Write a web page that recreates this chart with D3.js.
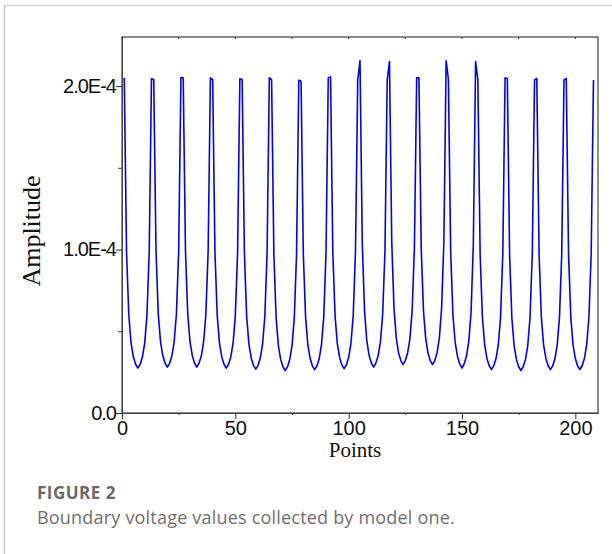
<!DOCTYPE html>
<html>
<head>
<meta charset="utf-8">
<script src="https://cdn.jsdelivr.net/npm/d3@7"></script>
<style>
  body { margin: 0; background: #fff; }
  .tick text { font-family: "Liberation Sans", Arial, sans-serif; font-size: 20px; fill: #111; }
  .y-axis .tick text { letter-spacing: -1px; }
  .axis-label { font-family: "Liberation Serif", "Times New Roman", serif; fill: #111; }
  .caption { font-family: "Open Sans", sans-serif; }
</style>
</head>
<body>
<div id="vis"></div>
<script>
// Boundary voltages, 16 excitations x 13 measurements (units of 1E-4)
const drive1  = [2.050, 0.985, 0.598, 0.428, 0.344, 0.298, 0.275, 0.297, 0.342, 0.426, 0.596, 0.982, 2.045];
const drive2  = [2.040, 0.990, 0.605, 0.435, 0.350, 0.305, 0.281, 0.304, 0.349, 0.434, 0.603, 0.988, 2.052];
const drive3  = [2.050, 0.992, 0.606, 0.436, 0.351, 0.305, 0.281, 0.305, 0.350, 0.435, 0.604, 0.990, 2.050];
const drive4  = [2.040, 0.985, 0.598, 0.428, 0.344, 0.298, 0.275, 0.298, 0.343, 0.427, 0.597, 0.983, 2.044];
const drive5  = [2.040, 0.978, 0.590, 0.420, 0.337, 0.291, 0.268, 0.290, 0.336, 0.419, 0.589, 0.976, 2.050];
const drive6  = [2.040, 0.970, 0.581, 0.411, 0.328, 0.283, 0.260, 0.282, 0.327, 0.410, 0.580, 0.968, 2.036];
const drive7  = [2.030, 0.968, 0.585, 0.416, 0.333, 0.288, 0.265, 0.288, 0.333, 0.416, 0.586, 0.975, 2.050];
const drive8  = [2.056, 0.985, 0.594, 0.423, 0.340, 0.294, 0.271, 0.294, 0.340, 0.424, 0.596, 0.985, 2.037];
const drive9  = [2.156, 1.040, 0.625, 0.442, 0.353, 0.306, 0.281, 0.305, 0.350, 0.434, 0.603, 0.985, 2.037];
const drive10 = [2.150, 1.050, 0.640, 0.458, 0.369, 0.321, 0.296, 0.320, 0.367, 0.452, 0.625, 1.010, 2.050];
const drive11 = [2.050, 1.010, 0.626, 0.453, 0.367, 0.320, 0.296, 0.321, 0.369, 0.458, 0.640, 1.050, 2.155];
const drive12 = [2.040, 0.985, 0.598, 0.430, 0.346, 0.300, 0.275, 0.302, 0.350, 0.440, 0.615, 1.035, 2.150];
const drive13 = [2.037, 0.970, 0.586, 0.417, 0.334, 0.289, 0.265, 0.288, 0.333, 0.416, 0.585, 0.972, 2.050];
const drive14 = [2.045, 0.968, 0.581, 0.411, 0.328, 0.283, 0.260, 0.283, 0.328, 0.411, 0.582, 0.970, 2.037];
const drive15 = [2.046, 0.975, 0.587, 0.417, 0.334, 0.289, 0.265, 0.288, 0.333, 0.416, 0.585, 0.972, 2.037];
const drive16 = [2.046, 0.972, 0.585, 0.415, 0.333, 0.288, 0.266, 0.289, 0.334, 0.417, 0.587, 0.975, 2.037];

const xTicks = [0, 50, 100, 150, 200];
const xMinorTicks = [25, 75, 125, 175];
const yTicks = [0, 1, 2];
const yTickLabels = ['0.0', '1.0E-4', '2.0E-4'];
const yMinorTicks = [0.5, 1.5];

// flatten to point numbers 1..208
const drives = [drive1, drive2, drive3, drive4, drive5, drive6, drive7, drive8,
                drive9, drive10, drive11, drive12, drive13, drive14, drive15, drive16];
const data = drives.flat().map((v, i) => ({point: i + 1, value: v}));

const W = 612, H = 554;
const margin = {top: 37, right: 14, bottom: 141, left: 122};
const width = W - margin.left - margin.right;
const height = H - margin.top - margin.bottom;

const root = d3.select('#vis').append('svg')
    .attr('width', W)
    .attr('height', H);

// card border (top + left only)
root.append('line').attr('x1', 4).attr('x2', W).attr('y1', 5.5).attr('y2', 5.5)
    .attr('stroke', '#d4d4d4').attr('stroke-width', 1.5);
root.append('line').attr('x1', 4.5).attr('x2', 4.5).attr('y1', 5).attr('y2', H)
    .attr('stroke', '#c8c8c8').attr('stroke-width', 1.5);

const svg = root.append('g')
    .attr('transform', `translate(${margin.left},${margin.top})`);

const xScale = d3.scaleLinear().domain([0, 210]).range([0, width]);
const yScale = d3.scaleLinear().domain([0, 2.3]).range([height, 0]);

// frame
svg.append('rect')
    .attr('width', width).attr('height', height)
    .attr('fill', 'none').attr('stroke', '#1a1a1a').attr('stroke-width', 1);

// top minor ticks
svg.append('g').selectAll('line')
    .data(xTicks.concat(xMinorTicks))
    .enter().append('line')
    .attr('x1', d => xScale(d)).attr('x2', d => xScale(d))
    .attr('y1', 0).attr('y2', 2)
    .attr('stroke', '#333');

// signal
const line = d3.line()
    .x(d => xScale(d.point))
    .y(d => yScale(d.value));

svg.append('path')
    .datum(data)
    .attr('d', line)
    .attr('fill', 'none')
    .attr('stroke', '#0000ff')
    .attr('stroke-width', 1.6)
    .attr('stroke-linejoin', 'round');

// x axis
const xAxis = d3.axisBottom(xScale)
    .tickValues(xTicks)
    .tickSize(6)
    .tickSizeOuter(0)
    .tickPadding(2);
svg.append('g')
    .attr('class', 'x-axis')
    .attr('transform', `translate(0,${height})`)
    .call(xAxis);

const xMinor = d3.axisBottom(xScale).tickValues(xMinorTicks).tickSize(2).tickSizeOuter(0).tickFormat('');
svg.append('g').attr('transform', `translate(0,${height})`).call(xMinor);

// y axis
const yAxis = d3.axisLeft(yScale)
    .tickValues(yTicks)
    .tickSize(6)
    .tickSizeOuter(0)
    .tickPadding(0)
    .tickFormat((d, i) => yTickLabels[i]);
svg.append('g')
    .attr('class', 'y-axis')
    .call(yAxis);

const yMinor = d3.axisLeft(yScale).tickValues(yMinorTicks).tickSize(4).tickSizeOuter(0).tickFormat('');
svg.append('g').call(yMinor);

svg.selectAll('.domain').attr('stroke', '#444');
svg.selectAll('.tick line').attr('stroke', '#333');

// axis labels
svg.append('text')
    .attr('class', 'axis-label')
    .attr('x', 233)
    .attr('y', height + 44)
    .attr('text-anchor', 'middle')
    .style('font-size', '21px')
    .text('Points');

svg.append('text')
    .attr('class', 'axis-label')
    .attr('transform', 'rotate(-90)')
    .attr('x', -(231 - margin.top))
    .attr('y', 40 - margin.left)
    .attr('text-anchor', 'middle')
    .style('font-size', '26px')
    .text('Amplitude');

// caption
root.append('text')
    .attr('class', 'caption')
    .attr('x', 37).attr('y', 499)
    .style('font-size', '17px').style('font-weight', 'bold')
    .style('letter-spacing', '0.5px')
    .attr('fill', '#6a6a6a')
    .text('FIGURE 2');

root.append('text')
    .attr('class', 'caption')
    .attr('x', 37).attr('y', 524)
    .style('font-size', '18px')
    .style('letter-spacing', '0.2px')
    .attr('fill', '#707070')
    .text('Boundary voltage values collected by model one.');
</script>
</body>
</html>
